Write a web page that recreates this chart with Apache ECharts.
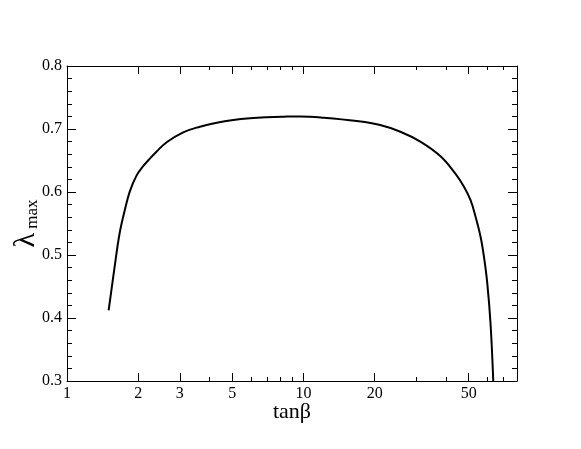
<!DOCTYPE html>
<html>
<head>
<meta charset="utf-8">
<script src="https://cdn.jsdelivr.net/npm/echarts@6/dist/echarts.min.js"></script>
<style>html,body{margin:0;padding:0;background:#fff}#c{width:581px;height:449px}</style>
</head>
<body>
<div id="c"></div>
<script>
// tanβ values (x) and λ_max values (y)
const tanBeta = [1.5, 1.59, 1.67, 1.76, 1.844, 1.968, 2.1, 2.24, 2.39, 2.64, 3.1, 3.65, 4.3, 5.05, 5.94, 7.0, 8.23, 9.68, 12.2, 16.8, 21.1, 25.7, 31.2, 37.9, 43.9, 47.6, 50.9, 53.4, 56.1, 58.0, 59.9, 61.8, 63.5];
const lambdaMax = [0.412, 0.481, 0.535, 0.573, 0.601, 0.626, 0.641, 0.653, 0.664, 0.679, 0.6947, 0.7037, 0.710, 0.7143, 0.717, 0.7186, 0.7195, 0.720, 0.718, 0.7127, 0.7063, 0.6957, 0.680, 0.657, 0.629, 0.609, 0.587, 0.561, 0.529, 0.497, 0.455, 0.392, 0.300];
const xMajorTicks = [1, 2, 3, 5, 10, 20, 50];
const xMinorTicks = [4, 6, 7, 8, 9, 30, 40, 60, 70];
const yMin = 0.3, yMax = 0.8, yStep = 0.1;
const xMin = 1, xMax = 80;

const font = 'Liberation Serif';
const chart = echarts.init(document.getElementById('c'), null, {renderer: 'canvas'});
const lineStyle = {color: '#000', width: 1};
function xAx(pos, ticks, len, showLine, labels) {
  return {
    type: 'log', logBase: 10, min: xMin, max: xMax, position: pos,
    axisLine: {show: showLine, lineStyle: lineStyle},
    axisTick: {show: true, inside: true, length: len, customValues: ticks, lineStyle: lineStyle},
    axisLabel: labels ? {show: true, customValues: ticks, color: '#000', fontFamily: font, fontSize: 16, margin: 5,
      formatter: v => String(+(+v).toPrecision(6))} : {show: false},
    splitLine: {show: false}, minorTick: {show: false}
  };
}
function yAx(pos, labels) {
  return {
    type: 'value', min: yMin, max: yMax, interval: yStep, position: pos,
    axisLine: {show: true, lineStyle: lineStyle},
    axisTick: {show: true, inside: true, length: 9, lineStyle: lineStyle},
    minorTick: {show: true, splitNumber: 5, length: 5, lineStyle: lineStyle},
    axisLabel: labels ? {show: true, color: '#000', fontFamily: font, fontSize: 16, margin: 5,
      formatter: v => v.toFixed(1)} : {show: false},
    splitLine: {show: false}
  };
}
const xa = [
  xAx('bottom', xMajorTicks, 8, true, true),
  xAx('bottom', xMinorTicks, 4, false, false),
  xAx('top', xMajorTicks, 8, true, false),
  xAx('top', xMinorTicks, 4, false, false)
];
xa[0].name = 'tanβ';
xa[0].nameLocation = 'middle';
xa[0].nameGap = 20;
xa[0].nameMoveOverlap = false;
xa[0].nameTextStyle = {fontFamily: font, fontSize: 22, color: '#000'};
const ya = [yAx('left', true), yAx('right', false)];
ya[0].name = '{l|λ}{m| max}';
ya[0].nameLocation = 'middle';
ya[0].nameRotate = 90;
ya[0].nameGap = 26;
ya[0].nameMoveOverlap = false;
ya[0].nameTextStyle = {
  color: '#000', fontFamily: font,
  rich: {
    l: {fontSize: 30, fontFamily: font, color: '#000', verticalAlign: 'bottom'},
    m: {fontSize: 17, fontFamily: font, color: '#000', verticalAlign: 'bottom'}
  }
};
chart.setOption({
  animation: false,
  backgroundColor: '#fff',
  grid: {left: 67, right: 64, top: 66, bottom: 68, containLabel: false, outerBoundsMode: 'none'},
  xAxis: xa,
  yAxis: ya,
  series: [{
    type: 'line', xAxisIndex: 0, yAxisIndex: 0, smooth: 0.4, symbol: 'none', clip: true,
    lineStyle: {color: '#000', width: 2},
    data: tanBeta.map((t, i) => [t, lambdaMax[i]])
  }]
});
</script>
</body>
</html>
